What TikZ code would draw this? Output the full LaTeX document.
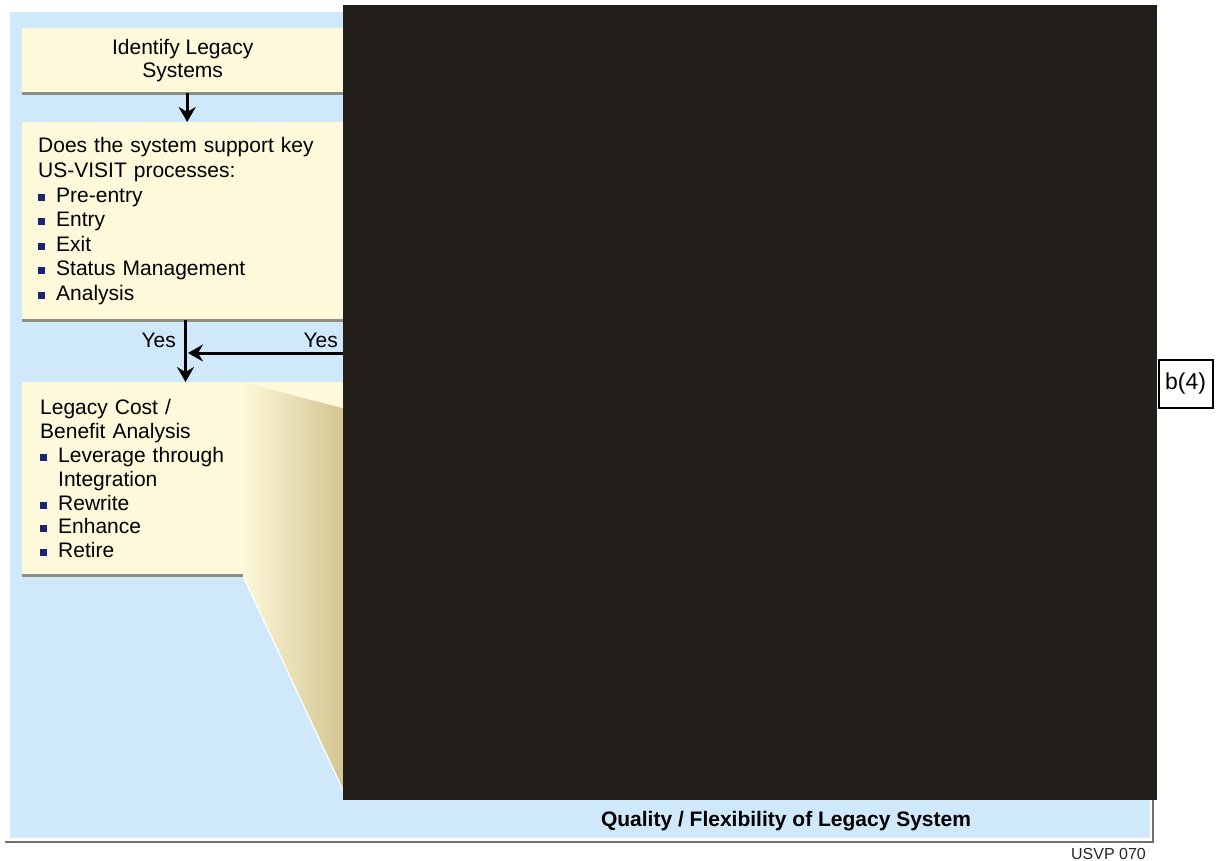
\documentclass[tikz,border=0pt]{standalone}
\usepackage{fontspec}
\setmainfont{Liberation Sans}
\usetikzlibrary{arrows.meta}
\definecolor{panelblue}{HTML}{CFE9FB}
\definecolor{boxyellow}{HTML}{FEF9DA}
\definecolor{tan}{HTML}{D3C592}
\definecolor{chartblack}{HTML}{221E1A}
\definecolor{shadowgray}{HTML}{8E8E82}
\definecolor{framegray}{HTML}{707070}
\definecolor{bulletblue}{HTML}{1E2272}
\newcommand{\bul}{\makebox[18pt][l]{\textcolor{bulletblue}{\rule[1.5pt]{7pt}{7pt}}}}
\begin{document}
\begin{tikzpicture}[x=1pt,y=-1pt,
  box/.style={fill=boxyellow, draw=none, inner sep=0pt, anchor=north west,
              font=\fontsize{21}{23}\selectfont},
  shadowline/.style={draw=shadowgray, line width=2.2pt},
  arr/.style={draw=black, line width=3pt, -{Stealth[length=15pt,width=17pt,inset=5pt]}},
  lab/.style={font=\fontsize{21}{23}\selectfont, inner sep=0pt},
]
\useasboundingbox (0,0) rectangle (1217,860);
\fill[white] (0,0) rectangle (1217,860);
% panel with shadow
\draw[framegray, line width=2pt] (5,842) -- (1153,842) -- (1153,800);
\fill[panelblue] (10,12) rectangle (1150,838);

% callout wedge from box 3 to chart
\shade[left color=boxyellow, right color=tan] (242,382) -- (343,408) -- (343,790) -- (243,575) -- (242,575) -- cycle;
\fill[boxyellow] (242,382) -- (343,382) -- (343,408) -- cycle;
\draw[white, line width=1.2pt] (243,576) -- (343,790);

% boxes
\node[box, minimum width=321pt, minimum height=65pt, align=center] (identify) at (22,28)
  {Identify Legacy\\Systems};
\draw[shadowline] (identify.south west) -- (identify.south east);

\node[box, minimum width=321pt, minimum height=198pt, text width=289pt, align=left,
      font=\fontsize{21}{24.6}\selectfont] (support) at (22,122)
  {Does the system support key\\
   US-VISIT processes:\\
   \bul Pre-entry\\
   \bul Entry\\
   \bul Exit\\
   \bul Status Management\\
   \bul Analysis};
\draw[shadowline] (support.south west) -- (support.south east);

\node[box, minimum width=221pt, minimum height=193pt, text width=185pt, align=left,
      font=\fontsize{21}{23.8}\selectfont] (legacy) at (22,382)
  {Legacy Cost /\\
   Benefit Analysis\\
   \bul Leverage through\\
   \hspace*{18pt}Integration\\
   \bul Rewrite\\
   \bul Enhance\\
   \bul Retire\\[4pt]};
\draw[shadowline] (legacy.south west) -- (legacy.south east);

% masked chart area
\node[fill=chartblack, draw=none, inner sep=0pt, anchor=north west,
      minimum width=814pt, minimum height=795pt] (chart) at (343,5) {};

% connectors
\coordinate (merge) at (185.5,353);
\draw[arr] ([xshift=4.5pt]identify.south) -- ([xshift=4.5pt]support.north);
\draw[arr] (support.south -| merge) -- (legacy.north -| merge);
\draw[arr] (chart.west |- merge) -- ([xshift=2.5pt]merge);

% labels
\node[lab, anchor=base east] (yes1) at (176,347) {Yes};
\node[lab, anchor=base east] (yes2) at (338,347) {Yes};

\node[font=\bfseries\fontsize{21}{23}\selectfont, inner sep=0pt, anchor=base] (axis) at (786,826)
  {Quality / Flexibility of Legacy System};

\node[draw=black, line width=2pt, fill=white, minimum width=54pt, minimum height=48pt,
      inner sep=0pt, font=\fontsize{23}{25}\selectfont] (tag) at (1185.5,384) {b(4)};

\node[font=\fontsize{16}{18}\selectfont, text=black!85, inner sep=0pt, anchor=base east] (code) at (1146,859)
  {USVP 070};
\end{tikzpicture}
\end{document}
